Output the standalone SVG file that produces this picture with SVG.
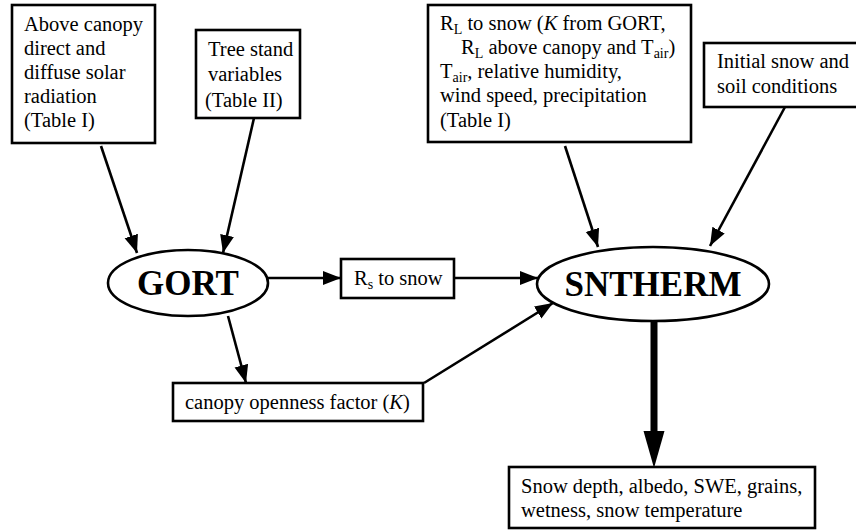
<svg xmlns="http://www.w3.org/2000/svg" width="856" height="530" viewBox="0 0 856 530">
<style>
.box{fill:#fff;stroke:#000;stroke-width:2.6}
.ell{fill:#fff;stroke:#000;stroke-width:2.6}
.c{stroke:#000;stroke-width:2.6;fill:none;marker-end:url(#ah)}
</style>
<defs>
<marker id="ah" markerUnits="userSpaceOnUse" markerWidth="20" markerHeight="16" refX="18" refY="7" orient="auto">
<path d="M0,0 L18,7 L0,14 Z" fill="#000"/>
</marker>
</defs>
<rect width="856" height="530" fill="#fff"/>
<g id="connectors">
<line class="c" x1="101" y1="146" x2="137" y2="253"/>
<line class="c" x1="254" y1="118" x2="223" y2="253"/>
<line class="c" x1="268" y1="278" x2="341" y2="278"/>
<line class="c" x1="454" y1="278" x2="538" y2="278"/>
<line class="c" x1="228" y1="316" x2="246" y2="383"/>
<line class="c" x1="424" y1="383" x2="553" y2="303"/>
<line class="c" x1="565" y1="146" x2="598" y2="247"/>
<line class="c" x1="785" y1="107" x2="710" y2="246"/>
<line x1="654" y1="322" x2="654" y2="435" stroke="#000" stroke-width="7"/>
<path d="M643.5,431 L664.5,431 L654,468 Z" fill="#000"/>
</g>
<g id="n_solar">
<rect class="box" x="12" y="5" width="143" height="138"/>
<text font-family="Liberation Serif" font-size="20.5"><tspan x="24" y="31">Above canopy</tspan><tspan x="24" y="55">direct and</tspan><tspan x="24" y="79">diffuse solar</tspan><tspan x="24" y="103">radiation</tspan><tspan x="24" y="127">(Table I)</tspan></text>
</g>
<g id="n_tree">
<rect class="box" x="196" y="30" width="104" height="88"/>
<text font-family="Liberation Serif" font-size="20.5"><tspan x="208" y="56">Tree stand</tspan><tspan x="208" y="81">variables</tspan><tspan x="205" y="107">(Table II)</tspan></text>
</g>
<g id="n_rl">
<rect class="box" x="428" y="5" width="263" height="137"/>
<text font-family="Liberation Serif" font-size="20.5" x="440" y="30">R<tspan font-size="14" dy="4">L</tspan><tspan dy="-4"> to snow (</tspan><tspan font-style="italic">K</tspan> from GORT,</text>
<text font-family="Liberation Serif" font-size="20.5" x="461" y="54">R<tspan font-size="14" dy="4">L</tspan><tspan dy="-4"> above canopy and T</tspan><tspan font-size="14" dy="4">air</tspan><tspan dy="-4">)</tspan></text>
<text font-family="Liberation Serif" font-size="20.5" x="440" y="78">T<tspan font-size="14" dy="4">air</tspan><tspan dy="-4">, relative humidity,</tspan></text>
<text font-family="Liberation Serif" font-size="20.5" x="440" y="102">wind speed, precipitation</text>
<text font-family="Liberation Serif" font-size="20.5" x="440" y="127">(Table I)</text>
</g>
<g id="n_init">
<rect class="box" x="704" y="43" width="160" height="64"/>
<text font-family="Liberation Serif" font-size="20.5"><tspan x="717" y="68">Initial snow and</tspan><tspan x="717" y="93">soil conditions</tspan></text>
</g>
<g id="n_gort">
<ellipse class="ell" cx="188" cy="283" rx="80" ry="33"/>
<text font-family="Liberation Serif" font-size="35" font-weight="bold" x="188" y="295" text-anchor="middle">GORT</text>
</g>
<g id="n_rs">
<rect class="box" x="341" y="259" width="113" height="39"/>
<text font-family="Liberation Serif" font-size="20.5" x="354" y="285">R<tspan font-size="14" dy="4">s</tspan><tspan dy="-4"> to snow</tspan></text>
</g>
<g id="n_sntherm">
<ellipse class="ell" cx="653" cy="284" rx="116" ry="37"/>
<text font-family="Liberation Serif" font-size="35" font-weight="bold" x="653" y="296" text-anchor="middle">SNTHERM</text>
</g>
<g id="n_canopy">
<rect class="box" x="173" y="383" width="250" height="38"/>
<text font-family="Liberation Serif" font-size="20.5" x="185" y="409">canopy openness factor (<tspan font-style="italic">K</tspan>)</text>
</g>
<g id="n_out">
<rect class="box" x="509" y="467" width="306" height="61"/>
<text font-family="Liberation Serif" font-size="20.5"><tspan x="521" y="493">Snow depth, albedo, SWE, grains,</tspan><tspan x="521" y="517">wetness, snow temperature</tspan></text>
</g>
</svg>
